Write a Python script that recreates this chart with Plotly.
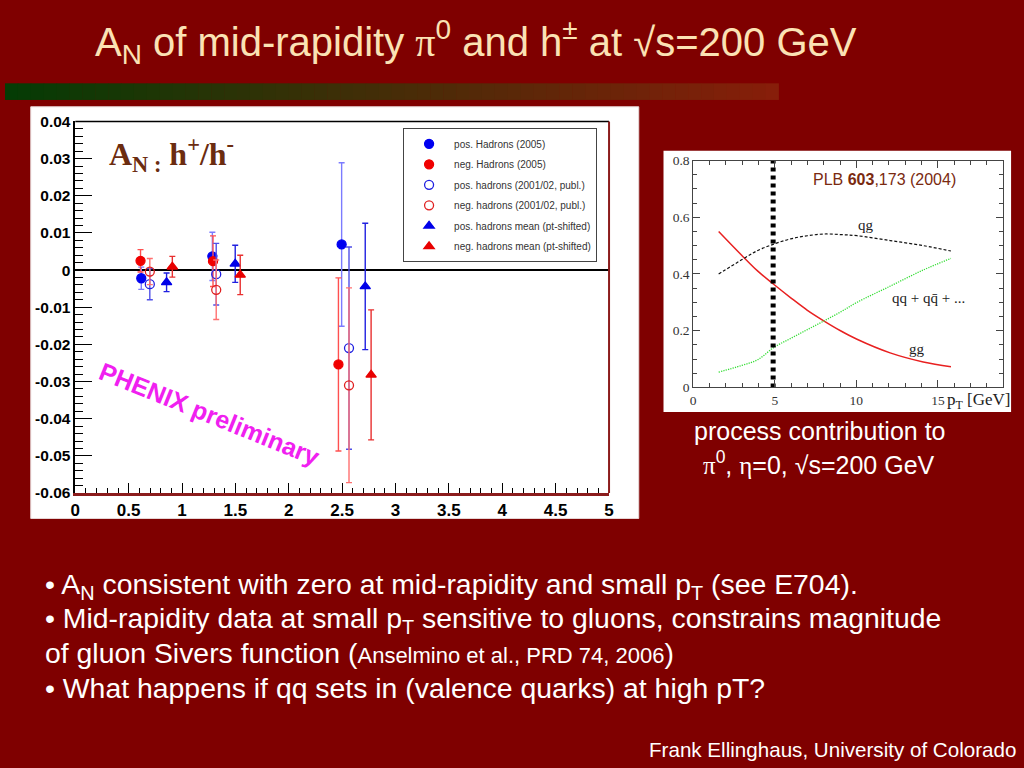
import plotly.graph_objects as go
import numpy as np

W, H = 1024, 768

# ---------------- main plot data (A_N vs pT) ----------------
pos05_x = [0.618, 1.284, 2.495]
pos05_y = [-0.0022, 0.0037, 0.0069]
pos05_e = [0.0030, 0.0065, 0.0220]

neg05_x = [0.611, 1.290, 2.465]
neg05_y = [0.0025, 0.0024, -0.0254]
neg05_e = [0.0030, 0.0068, 0.0233]

pos02_x = [0.698, 1.320, 2.564]
pos02_y = [-0.0038, -0.0011, -0.0210]
pos02_e = [0.0042, 0.0083, 0.0272]

neg02_x = [0.698, 1.320, 2.564]
neg02_y = [-0.0004, -0.0053, -0.0310]
neg02_e = [0.0035, 0.0080, 0.0262]

posm_x = [0.855, 1.498, 2.716]
posm_y = [-0.0033, 0.0017, -0.0044]
posm_e = [0.0025, 0.0050, 0.0170]

negm_x = [0.909, 1.545, 2.771]
negm_y = [0.0009, -0.0013, -0.0282]
negm_e = [0.0028, 0.0053, 0.0175]

main_yticks = [0.04, 0.03, 0.02, 0.01, 0.0, -0.01, -0.02, -0.03, -0.04, -0.05, -0.06]
main_ytext = ["0.04", "0.03", "0.02", "0.01", "0", "-0.01", "-0.02", "-0.03", "-0.04", "-0.05", "-0.06"]
main_xticks = [0, 0.5, 1, 1.5, 2, 2.5, 3, 3.5, 4, 4.5, 5]
main_xtext = ["0", "0.5", "1", "1.5", "2", "2.5", "3", "3.5", "4", "4.5", "5"]

# ---------------- right plot data (process fractions) ----------------
proc_pt = [1.56, 2.94, 3.96, 4.97, 5.98, 7.0, 8.0, 9.03, 10.04, 12.07, 14.1, 15.8]
frac_gg = [0.550, 0.468, 0.410, 0.362, 0.316, 0.272, 0.235, 0.200, 0.170, 0.122, 0.090, 0.073]
frac_qg = [0.400, 0.449, 0.483, 0.506, 0.524, 0.535, 0.541, 0.539, 0.535, 0.518, 0.500, 0.481]
frac_qq = [0.054, 0.077, 0.098, 0.142, 0.173, 0.204, 0.234, 0.266, 0.300, 0.357, 0.414, 0.455]
pt_cut = 4.9
proc_xticks = [0, 5, 10, 15]
proc_xtext = ["0", "5", "10", "15"]
proc_yticks = [0, 0.2, 0.4, 0.6, 0.8]
proc_ytext = ["0", "0.2", "0.4", "0.6", "0.8"]

BG = "#7f0000"
SANS = "Liberation Sans, Arial, Helvetica, sans-serif"
SERIF = "Liberation Serif, Times New Roman, serif"


def px(x):
    return x / W


def py(y):
    return 1 - y / H


fig = go.Figure()

series = [
    ("pos. Hadrons (2005)", pos05_x, pos05_y, pos05_e, "circle", "#0000f0", "#7b7bff"),
    ("neg. Hadrons (2005)", neg05_x, neg05_y, neg05_e, "circle", "#f00000", "#ff5050"),
    ("pos. hadrons (2001/02, publ.)", pos02_x, pos02_y, pos02_e, "circle-open", "#2020e0", "#5050e8"),
    ("neg. hadrons (2001/02, publ.)", neg02_x, neg02_y, neg02_e, "circle-open", "#e02020", "#ff7070"),
    ("pos. hadrons mean (pt-shifted)", posm_x, posm_y, posm_e, "triangle-up", "#0000e8", "#2020e0"),
    ("neg. hadrons mean (pt-shifted)", negm_x, negm_y, negm_e, "triangle-up", "#e80000", "#e83030"),
]
for name, xs, ys, es, sym, col, ecol in series:
    fig.add_trace(go.Scatter(
        x=xs, y=ys, mode="markers", name=name, legendgroup=name,
        marker=dict(symbol=sym, size=9, color=col, line=dict(color=col, width=1.3)),
        error_y=dict(type="data", array=es, color=ecol, thickness=1.4, width=3),
        xaxis="x", yaxis="y",
    ))

# right plot curves
fig.add_trace(go.Scatter(x=proc_pt, y=frac_gg, mode="lines", showlegend=False,
                         line=dict(color="#e82020", width=1.5, shape="spline"),
                         xaxis="x2", yaxis="y2"))
fig.add_trace(go.Scatter(x=proc_pt, y=frac_qg, mode="lines", showlegend=False,
                         line=dict(color="#111111", width=1.2, dash="3px,2px", shape="spline"),
                         xaxis="x2", yaxis="y2"))
fig.add_trace(go.Scatter(x=proc_pt, y=frac_qq, mode="lines", showlegend=False,
                         line=dict(color="#33dd33", width=1.3, dash="1.2px,1.2px", shape="spline"),
                         xaxis="x2", yaxis="y2"))
fig.add_trace(go.Scatter(x=[pt_cut, pt_cut], y=[0, 0.8], mode="lines", showlegend=False,
                         line=dict(color="black", width=5, dash="4px,4px"),
                         xaxis="x2", yaxis="y2"))

shapes = []
# header gradient band (decorative)
n = 60
x0, x1 = 0, 781
c0 = np.array([5, 60, 5])
c1 = np.array([135, 30, 10])
for i in range(n):
    t = i / (n - 1)
    c = (c0 * (1 - t) + c1 * t).astype(int)
    shapes.append(dict(type="rect", xref="paper", yref="paper",
                       x0=px(x0 + (x1 - x0) * i / n), x1=px(x0 + (x1 - x0) * (i + 1) / n + 0.5),
                       y0=py(93), y1=py(76), line=dict(width=0),
                       fillcolor="rgb(%d,%d,%d)" % tuple(c), layer="below"))
# white picture backgrounds
shapes.append(dict(type="rect", xref="paper", yref="paper", x0=px(26), x1=px(640),
                   y0=py(521), y1=py(100), fillcolor="white", line=dict(color="#e8d8d8", width=1),
                   layer="below"))
shapes.append(dict(type="rect", xref="paper", yref="paper", x0=px(665), x1=px(1016),
                   y0=py(412), y1=py(145), fillcolor="white", line=dict(width=0), layer="below"))
# main frame: top black, right dark red
shapes.append(dict(type="line", xref="x domain", yref="y domain", x0=0, x1=1, y0=1, y1=1,
                   line=dict(color="black", width=1.5)))
shapes.append(dict(type="line", xref="x domain", yref="y domain", x0=1, x1=1, y0=0, y1=1,
                   line=dict(color="#8b1c1c", width=2)))

annotations = []
# Title
annotations.append(dict(
    xref="paper", yref="paper", x=px(89), y=py(34), xanchor="left", yanchor="middle",
    showarrow=False,
    text=("A<sub>N</sub> of mid-rapidity <span style='font-family:Liberation Serif'>\u03c0</span><sup>0</sup>"
          " and h<sup>\u00b1</sup> at \u221as=200 GeV"),
    font=dict(family=SANS, size=40, color="#fbe2b4")))
# A_N : h+/h-
annotations.append(dict(
    xref="x", yref="y", x=0.30, y=0.0312, xanchor="left", yanchor="middle", showarrow=False,
    text="<b>A<sub>N :</sub> h<sup>+</sup>/h<sup>-</sup></b>",
    font=dict(family=SERIF, size=32, color="#6b2c10")))
# PHENIX preliminary
annotations.append(dict(
    xref="x", yref="y", x=1.26, y=-0.0388, xanchor="center", yanchor="middle",
    showarrow=False, textangle=22,
    text="<b>PHENIX preliminary</b>",
    font=dict(family=SANS, size=25, color="#f020f0")))
# right plot labels
annotations.append(dict(
    xref="x2", yref="y2", x=11.7, y=0.732, xanchor="center", showarrow=False,
    text="PLB <b>603</b>,173 (2004)", font=dict(family=SANS, size=16, color="#7a2a10")))
annotations.append(dict(xref="x2", yref="y2", x=10.6, y=0.572, xanchor="center", showarrow=False,
                        text="qg", font=dict(family=SERIF, size=15, color="#222")))
annotations.append(dict(xref="x2", yref="y2", x=14.4, y=0.317, xanchor="center", showarrow=False,
                        text="qq + qq\u0304 + ...", font=dict(family=SERIF, size=15, color="#222")))
annotations.append(dict(xref="x2", yref="y2", x=13.7, y=0.136, xanchor="center", showarrow=False,
                        text="gg", font=dict(family=SERIF, size=15, color="#222")))
annotations.append(dict(xref="x2", yref="y2", x=15.45, y=0, xanchor="left", yanchor="top",
                        yshift=-1, showarrow=False,
                        text="p<sub>T</sub> [GeV]", font=dict(family=SERIF, size=17, color="#222")))
# caption
annotations.append(dict(xref="paper", yref="paper", x=px(823), y=py(432), xanchor="center",
                        yanchor="middle", showarrow=False,
                        text="process contribution to", font=dict(family=SANS, size=25, color="white")))
annotations.append(dict(xref="paper", yref="paper", x=px(822), y=py(464), xanchor="center",
                        yanchor="middle", showarrow=False,
                        text=("<span style='font-family:Liberation Serif'>\u03c0</span><sup>0</sup>, "
                              "<span style='font-family:Liberation Serif'>\u03b7</span>=0, \u221as=200 GeV"),
                        font=dict(family=SANS, size=25, color="white")))
# bullets
bullets = [
    (590, "\u2022 A<sub>N</sub> consistent with zero at mid-rapidity and small p<sub>T</sub> (see E704)."),
    (625, "\u2022 Mid-rapidity data at small p<sub>T</sub> sensitive to gluons, constrains magnitude"),
    (659, "of gluon Sivers function (<span style='font-size:22px'>Anselmino et al., PRD 74, 2006</span>)"),
    (694, "\u2022 What happens if qq sets in (valence quarks) at high pT?"),
]
for yy, txt in bullets:
    annotations.append(dict(xref="paper", yref="paper", x=px(38), y=py(yy), xanchor="left",
                            yanchor="middle", showarrow=False, text=txt,
                            font=dict(family=SANS, size=28.4, color="white")))
annotations.append(dict(xref="paper", yref="paper", x=px(1023), y=py(757), xanchor="right",
                        yanchor="middle", showarrow=False,
                        text="Frank Ellinghaus, University of Colorado",
                        font=dict(family=SANS, size=20.6, color="white")))

fig.update_layout(
    width=W, height=H, margin=dict(l=0, r=0, t=0, b=0),
    paper_bgcolor=BG, plot_bgcolor="white",
    shapes=shapes, annotations=annotations,
    showlegend=True,
    legend=dict(x=px(402), y=py(122), xanchor="left", yanchor="top",
                bgcolor="white", bordercolor="#444", borderwidth=1,
                font=dict(family=SANS, size=10, color="#333"),
                itemsizing="trace", tracegroupgap=1.5, itemwidth=40),
    xaxis=dict(domain=[px(71), px(610)], range=[0, 5], anchor="y",
               showline=True, linecolor="#8b1c1c", linewidth=2.5, mirror=False,
               showgrid=False, zeroline=False,
               tickmode="array", tickvals=main_xticks, ticktext=main_xtext,
               ticks="inside", ticklen=10, tickwidth=1, tickcolor="black",
               tickfont=dict(family=SANS, size=17, color="black", weight="bold"),
               minor=dict(ticks="inside", ticklen=5, tickmode="linear", tick0=0, dtick=0.1,
                          tickcolor="black", showgrid=False)),
    yaxis=dict(domain=[py(495), py(115)], range=[-0.06, 0.04], anchor="x",
               showline=True, linecolor="black", linewidth=1.5, mirror=False,
               showgrid=False, zeroline=True, zerolinecolor="black", zerolinewidth=1.5,
               tickmode="array", tickvals=main_yticks, ticktext=main_ytext,
               ticks="inside", ticklen=17, tickwidth=1, tickcolor="black",
               tickfont=dict(family=SANS, size=15.5, color="black", weight="bold"),
               minor=dict(ticks="inside", ticklen=8, tickmode="linear", tick0=0, dtick=0.002,
                          tickcolor="black", showgrid=False)),
    xaxis2=dict(domain=[px(695), px(1008)], range=[0, 19], anchor="y2",
                showline=True, linecolor="#444", linewidth=1, mirror="ticks",
                showgrid=False, zeroline=False,
                tickmode="array", tickvals=proc_xticks, ticktext=proc_xtext,
                ticks="inside", ticklen=7, tickcolor="#444",
                tickfont=dict(family=SERIF, size=13.5, color="#333"),
                minor=dict(ticks="inside", ticklen=4, tickmode="linear", tick0=0, dtick=1,
                           tickcolor="#444", showgrid=False)),
    yaxis2=dict(domain=[py(387), py(155)], range=[0, 0.8], anchor="x2",
                showline=True, linecolor="#444", linewidth=1, mirror="ticks",
                showgrid=False, zeroline=False,
                tickmode="array", tickvals=proc_yticks, ticktext=proc_ytext,
                ticks="inside", ticklen=7, tickcolor="#444",
                tickfont=dict(family=SERIF, size=13.5, color="#333"),
                minor=dict(ticks="inside", ticklen=4, tickmode="linear", tick0=0, dtick=0.05,
                           tickcolor="#444", showgrid=False)),
)

fig.write_html("out.html", config={"displayModeBar": False},
               post_script="document.body.style.margin='0px';document.body.style.overflow='hidden';")
